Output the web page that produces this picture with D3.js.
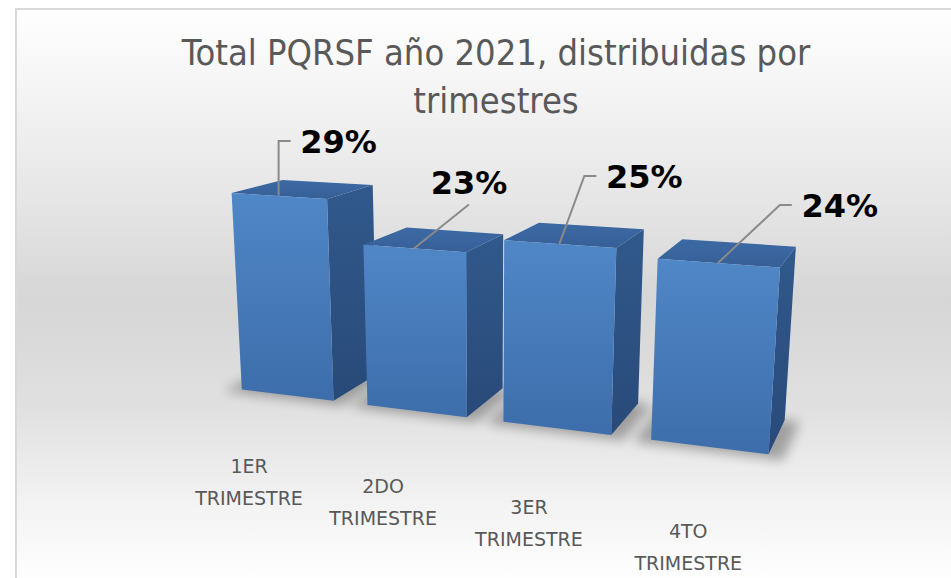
<!DOCTYPE html>
<html>
<head>
<meta charset="utf-8">
<script src="https://cdn.jsdelivr.net/npm/d3@7/dist/d3.min.js"></script>
<style>
  html, body { margin: 0; padding: 0; background: #ffffff; }
  svg { display: block; }
</style>
</head>
<body>
<script>
// ---- data ----
const categories = ['1ER TRIMESTRE', '2DO TRIMESTRE', '3ER TRIMESTRE', '4TO TRIMESTRE'];
const shares = [0.29, 0.23, 0.25, 0.24];
const titleLines = ['Total PQRSF año 2021, distribuidas por', 'trimestres'];
const valueMax = 0.30;

// ---- layout ----
const svgWidth = 951, svgHeight = 578;

// simple perspective camera for the 3D columns (world units -> screen px)
const cam = {
    cx: 485, cy: 335, f: 1260, dist: 850,
    yaw: 20.9 * Math.PI / 180,
    pitch: 14.9 * Math.PI / 180
};
const floorY = -60;     // world y of the floor
const barDepth = 72;    // world depth of each column

// label placement relative to the top-front midpoint of each column (screen px)
const labelOffsets = [[60, -55], [55, -66], [85, -68], [122, -58]];

function project([x, y, z]) {
    const xr = x * Math.cos(cam.yaw) + z * Math.sin(cam.yaw);
    const zr = -x * Math.sin(cam.yaw) + z * Math.cos(cam.yaw);
    const yc = y * Math.cos(cam.pitch) + zr * Math.sin(cam.pitch);
    const zc = -y * Math.sin(cam.pitch) + zr * Math.cos(cam.pitch) + cam.dist;
    return [cam.cx + cam.f * xr / zc, cam.cy - cam.f * yc / zc];
}

const svg = d3.select('body')
    .append('svg')
    .attr('width', svgWidth)
    .attr('height', svgHeight);

const defs = svg.append('defs');

// chart background: white -> grey -> white
const bg = defs.append('linearGradient')
    .attr('id', 'bgGrad')
    .attr('gradientUnits', 'userSpaceOnUse')
    .attr('x1', 0).attr('y1', 9).attr('x2', 0).attr('y2', 578);
[[0, '#ffffff'], [0.33, '#e6e6e6'], [0.51, '#d6d6d6'], [0.7, '#e0e0e0'], [0.86, '#f2f2f2'], [1, '#fefefe']]
    .forEach(([o, c]) => bg.append('stop').attr('offset', o).attr('stop-color', c));

function faceGradient(id, top, bottom) {
    const g = defs.append('linearGradient')
        .attr('id', id)
        .attr('x1', 0).attr('y1', 0).attr('x2', 0).attr('y2', 1);
    g.append('stop').attr('offset', 0).attr('stop-color', top);
    g.append('stop').attr('offset', 1).attr('stop-color', bottom);
}
faceGradient('frontGrad', '#5087c7', '#3d6dab');
faceGradient('sideGrad', '#31598b', '#284a79');
faceGradient('topGrad', '#3d6aa4', '#375f97');

defs.append('filter')
    .attr('id', 'shadowBlur')
    .attr('x', '-50%').attr('y', '-50%').attr('width', '200%').attr('height', '200%')
    .append('feGaussianBlur')
    .attr('stdDeviation', 6);

svg.append('rect')
    .attr('x', 16).attr('y', 9)
    .attr('width', 1000).attr('height', 1000)
    .attr('fill', 'url(#bgGrad)')
    .attr('stroke', '#d9d9d9')
    .attr('stroke-width', 2);

// ---- title ----
svg.append('text')
    .attr('x', 496)
    .attr('y', 65)
    .attr('text-anchor', 'middle')
    .attr('font-family', '"DejaVu Sans Condensed", "DejaVu Sans", sans-serif')
    .attr('font-size', 36)
    .attr('fill', '#595959')
    .selectAll('tspan')
    .data(titleLines)
    .enter()
    .append('tspan')
    .attr('x', 496)
    .attr('dy', (d, i) => i === 0 ? 0 : 48)
    .text(d => d);

// ---- scales ----
const xScale = d3.scaleBand()
    .domain(categories)
    .range([-206, 206])
    .paddingInner(0.262)
    .paddingOuter(0.131);

const yScale = d3.scaleLinear()
    .domain([0, valueMax])
    .range([floorY, floorY + 151]);

const bars = categories.map((cat, i) => {
    const x0 = xScale(cat), x1 = x0 + xScale.bandwidth();
    const y0 = yScale(0), y1 = yScale(shares[i]);
    return { cat, value: shares[i], x0, x1, y0, y1, z0: 0, z1: barDepth, i };
});

const line = pts => 'M' + pts.map(p => project(p).join(',')).join('L') + 'Z';

// soft shadows under the columns
svg.append('g')
    .selectAll('path')
    .data(bars)
    .enter()
    .append('path')
    .attr('d', b => line([
        [b.x0 - 10, b.y0, b.z0 - 8], [b.x1 + 10, b.y0, b.z0 - 8],
        [b.x1 + 10, b.y0, b.z1], [b.x0 - 10, b.y0, b.z1]
    ]))
    .attr('fill', '#000')
    .attr('opacity', 0.3)
    .attr('filter', 'url(#shadowBlur)');

// columns, drawn far (left) to near (right)
const col = svg.append('g')
    .selectAll('g')
    .data(bars)
    .enter()
    .append('g');

col.append('path')
    .attr('d', b => line([[b.x1, b.y0, b.z0], [b.x1, b.y0, b.z1], [b.x1, b.y1, b.z1], [b.x1, b.y1, b.z0]]))
    .attr('fill', 'url(#sideGrad)');

col.append('path')
    .attr('d', b => line([[b.x0, b.y1, b.z0], [b.x1, b.y1, b.z0], [b.x1, b.y1, b.z1], [b.x0, b.y1, b.z1]]))
    .attr('fill', 'url(#topGrad)');

col.append('path')
    .attr('d', b => line([[b.x0, b.y0, b.z0], [b.x1, b.y0, b.z0], [b.x1, b.y1, b.z0], [b.x0, b.y1, b.z0]]))
    .attr('fill', 'url(#frontGrad)');

// ---- data labels with leader lines ----
const fmt = d3.format('.0%');
const halfW = 38, halfH = 12;

const labels = svg.append('g')
    .selectAll('g')
    .data(bars)
    .enter()
    .append('g');

labels.append('path')
    .attr('fill', 'none')
    .attr('stroke', '#8a8a8a')
    .attr('stroke-width', 2)
    .attr('d', b => {
        const a = project([(b.x0 + b.x1) / 2, b.y1, b.z0]);
        const cx = a[0] + labelOffsets[b.i][0], cy = a[1] + labelOffsets[b.i][1];
        const left = cx - halfW;
        if (left - 22 >= a[0] - 1) {
            return `M${a[0]},${a[1]}L${left - 22},${cy}L${left - 10},${cy}`;
        }
        return `M${a[0]},${a[1]}L${cx},${cy + halfH + 10}`;
    });

labels.append('text')
    .attr('x', b => project([(b.x0 + b.x1) / 2, b.y1, b.z0])[0] + labelOffsets[b.i][0])
    .attr('y', b => project([(b.x0 + b.x1) / 2, b.y1, b.z0])[1] + labelOffsets[b.i][1] + halfH)
    .attr('text-anchor', 'middle')
    .attr('font-family', '"DejaVu Sans", sans-serif')
    .attr('font-weight', 'bold')
    .attr('font-size', 32)
    .attr('fill', '#000')
    .text(b => fmt(b.value));

// ---- category labels along the front edge of the floor ----
const catText = svg.append('g')
    .selectAll('text')
    .data(bars)
    .enter()
    .append('text')
    .attr('text-anchor', 'middle')
    .attr('font-family', '"DejaVu Sans", sans-serif')
    .attr('font-size', 19)
    .attr('fill', '#595959');

catText.selectAll('tspan')
    .data(b => {
        const p = project([(b.x0 + b.x1) / 2, floorY - 36, -56]);
        return b.cat.split(' ').map((t, k) => ({ t, x: p[0], y: p[1] + 6 + k * 32 }));
    })
    .enter()
    .append('tspan')
    .attr('x', d => d.x)
    .attr('y', d => d.y)
    .text(d => d.t);
</script>
</body>
</html>
